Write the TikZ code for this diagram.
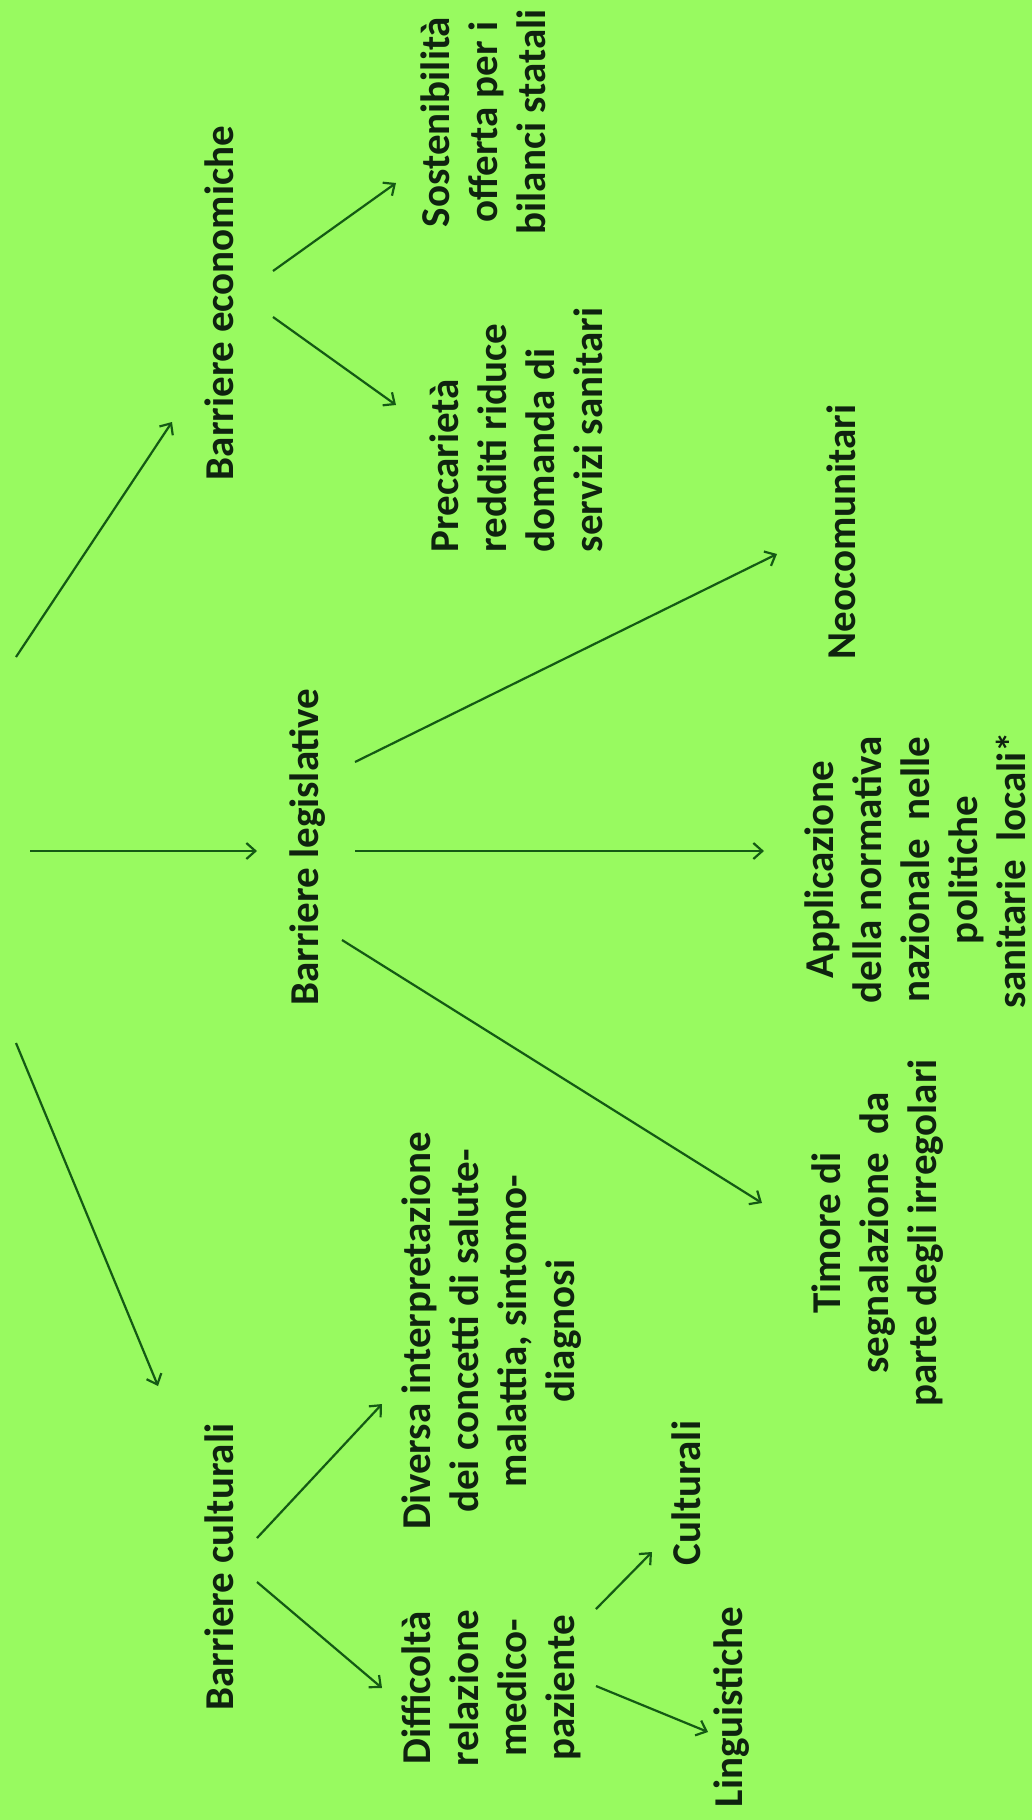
\documentclass[tikz,border=0pt]{standalone}
\usepackage{fontspec}
\setmainfont{Carlito}
\usetikzlibrary{arrows.meta}
\definecolor{bg}{RGB}{152,250,96}
\definecolor{ink}{RGB}{15,35,15}
\definecolor{arrc}{RGB}{20,90,20}
\begin{document}
\begin{tikzpicture}[x=1pt,y=-1pt,
  lbl/.style={rotate=90, font=\fontsize{41}{48}\selectfont\bfseries, text=ink,
    inner sep=0pt, outer sep=0pt, align=center},
  conn/.style={draw=arrc, line width=2.2pt,
    -{Straight Barb[length=9pt,width=16pt,line width=2.2pt]}}]
\fill[bg] (0,0) rectangle (1032,1820);
\useasboundingbox (0,0) rectangle (1032,1820);

\node[lbl] (econ) at (219,303) {Barriere economiche};
\node[lbl] (sost) at (483,122) {Sostenibilità\\offerta per i\\bilanci statali};
\node[lbl, align=left] (prec) at (516,430) {Precarietà\\redditi riduce\\domanda di\\servizi sanitari};
\node[lbl] (neo) at (841,532) {Neocomunitari};
\node[lbl] (leg) at (308,847) {Barriere legislative};
\node[lbl] (appl) at (915,870) {Applicazione\\della normativa\\nazionale~~nelle\\politiche\\sanitarie~~locali*};
\node[lbl] (tim) at (878,1233) {Timore di\\segnalazione~~da\\parte degli irregolari};
\node[lbl] (div) at (492,1331) {Diversa interpretazione\\dei concetti di salute-\\malattia, sintomo-\\diagnosi};
\node[lbl] (cult) at (219,1567) {Barriere culturali};
\node[lbl] (diff) at (491,1688) {Difficoltà\\relazione\\medico-\\paziente};
\node[lbl] (cul2) at (686,1493) {Culturali};
\node[lbl] (ling) at (732,1707) {Linguistiche};

\coordinate (r1) at (16,657);
\coordinate (r2) at (30,851);
\coordinate (r3) at (16,1043);

\draw[conn] (r1) -- ([shift={(-47,119)}]econ.center);
\draw[conn] (r2) -- ([shift={(-51,4)}]leg.center);
\draw[conn] (r3) -- ([shift={(-61,-181)}]cult.center);

\draw[conn] ([shift={(54,-32)}]econ.center) -- ([shift={(-87,61)}]sost.center);
\draw[conn] ([shift={(54,14)}]econ.center) -- ([shift={(-120,-25)}]prec.center);

\draw[conn] ([shift={(47,-85)}]leg.center) -- ([shift={(-64,22)}]neo.center);
\draw[conn] ([shift={(47,4)}]leg.center) -- ([shift={(-151,-19)}]appl.center);
\draw[conn] ([shift={(34,93)}]leg.center) -- ([shift={(-116,-30)}]tim.center);

\draw[conn] ([shift={(38,-29)}]cult.center) -- ([shift={(-110,73)}]div.center);
\draw[conn] ([shift={(38,15)}]cult.center) -- ([shift={(-109,0)}]diff.center);

\draw[conn] ([shift={(105,-79)}]diff.center) -- ([shift={(-34,59)}]cul2.center);
\draw[conn] ([shift={(105,-2)}]diff.center) -- ([shift={(-24,25)}]ling.center);
\end{tikzpicture}
\end{document}
